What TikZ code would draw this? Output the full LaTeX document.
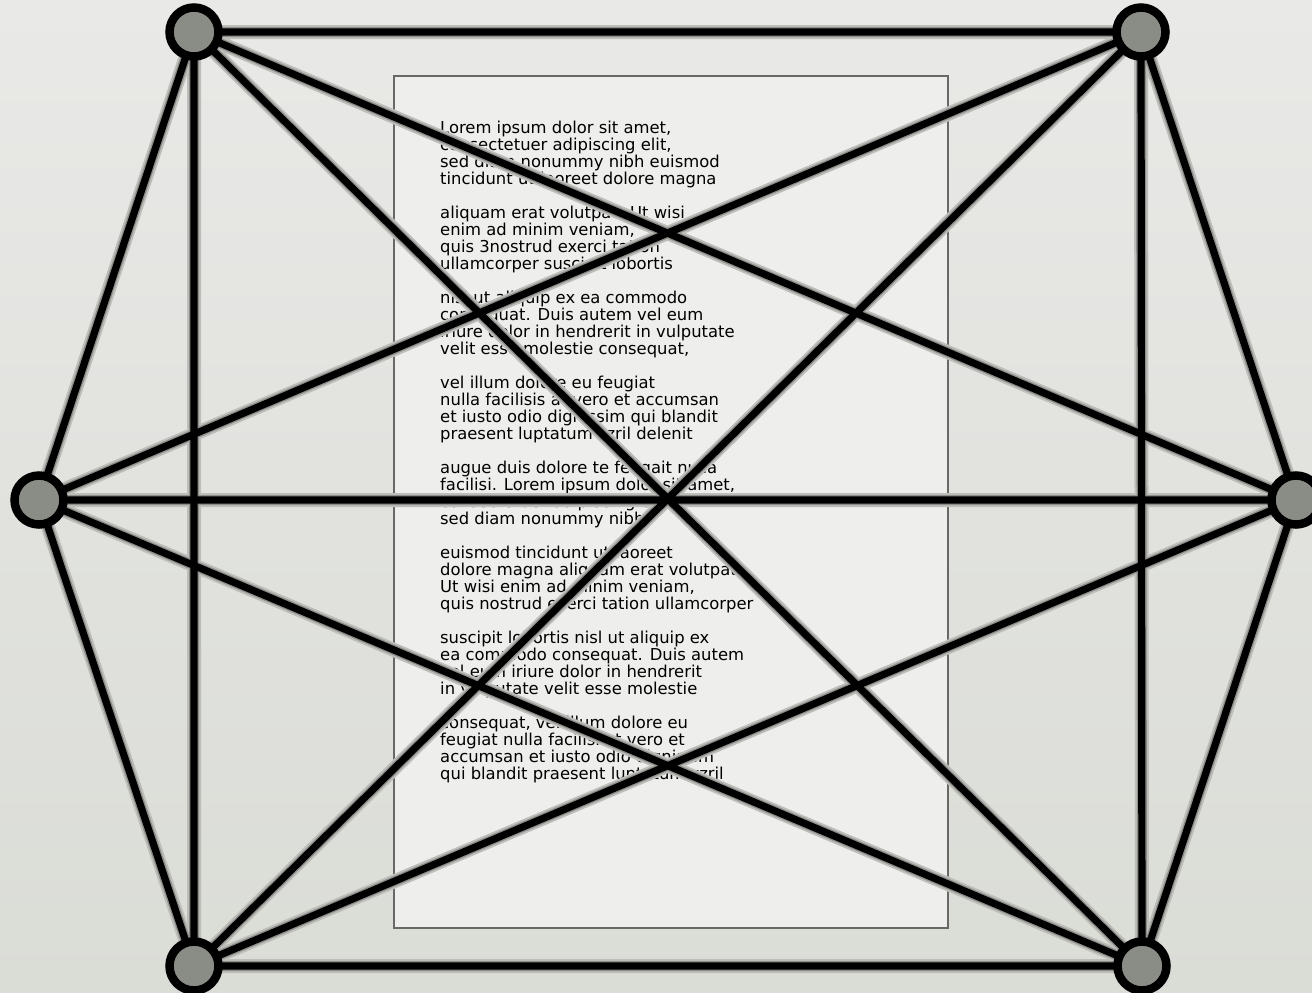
\documentclass[tikz,border=0pt]{standalone}
\usepackage{fontspec}
\setmainfont{DejaVu Sans}
\usepackage{tikz}
\definecolor{bgtop}{HTML}{E9E9E7}
\definecolor{bgbot}{HTML}{DADCD6}
\definecolor{sheet}{HTML}{EEEEEC}
\definecolor{sheetline}{HTML}{686966}
\definecolor{knob}{HTML}{8A8C86}
\definecolor{haze}{HTML}{BDBEBA}
\definecolor{shade}{HTML}{8E8F8B}
\tikzset{
  vtx/.style={circle,draw=black,fill=knob,line width=8.5pt,minimum size=49pt,inner sep=0pt},
  halo/.style={draw=haze,line width=14pt,postaction={draw=shade,line width=10pt}},
  edg/.style={draw=black,line width=7.2pt},
}

\begin{document}
\begin{tikzpicture}[x=1pt,y=-1pt]
\tikzset{
  page/.style={fill=sheet,draw=sheetline,line width=2pt},
  lorem/.style={anchor=north west,inner sep=0pt,align=left,font=\fontsize{16.4}{17}\selectfont},
}
\shade[top color=bgtop,bottom color=bgbot] (0,0) rectangle (1312,993);
\useasboundingbox (0,0) rectangle (1312,993);
\node[page,minimum width=554pt,minimum height=852pt,anchor=north west,inner sep=0pt] (sheet) at (393,75) {};
\node[lorem] (txt) at (440,120.4)
  {Lorem ipsum dolor sit amet,\\consectetuer adipiscing elit,\\sed diam nonummy nibh euismod\\tincidunt ut laoreet dolore magna\\[17pt]
   aliquam erat volutpat. Ut wisi\\enim ad minim veniam,\\quis 3nostrud exerci tation\\ullamcorper suscipit lobortis\\[17pt]
   nisl ut aliquip ex ea commodo\\consequat. Duis autem vel eum\\iriure dolor in hendrerit in vulputate\\velit esse molestie consequat,\\[17pt]
   vel illum dolore eu feugiat\\nulla facilisis at vero et accumsan\\et iusto odio dignissim qui blandit\\praesent luptatum zzril delenit\\[17pt]
   augue duis dolore te feugait nulla\\facilisi. Lorem ipsum dolor sit amet,\\consectetuer adipiscing elit,\\sed diam nonummy nibh\\[17pt]
   euismod tincidunt ut laoreet\\dolore magna aliquam erat volutpat.\\Ut wisi enim ad minim veniam,\\quis nostrud exerci tation ullamcorper\\[17pt]
   suscipit lobortis nisl ut aliquip ex\\ea commodo consequat. Duis autem\\vel eum iriure dolor in hendrerit\\in vulputate velit esse molestie\\[17pt]
   consequat, vel illum dolore eu\\feugiat nulla facilisi at vero et\\accumsan et iusto odio dignissim\\qui blandit praesent luptatum zzril};
\coordinate (tl) at (194,32);
\coordinate (tr) at (1141,32);
\coordinate (lf) at (39,500);
\coordinate (rt) at (1296,500);
\coordinate (bl) at (194,966);
\coordinate (br) at (1142,966);
\path[halo] (tl) -- (tr) (tl) -- (lf) (tl) -- (rt) (tl) -- (bl) (tl) -- (br)
  (tr) -- (lf) (tr) -- (rt) (tr) -- (bl) (tr) -- (br)
  (lf) -- (rt) (lf) -- (bl) (lf) -- (br)
  (rt) -- (bl) (rt) -- (br) (bl) -- (br);
\draw[edg] (tl) -- (tr) (tl) -- (lf) (tl) -- (rt) (tl) -- (bl) (tl) -- (br)
  (tr) -- (lf) (tr) -- (rt) (tr) -- (bl) (tr) -- (br)
  (lf) -- (rt) (lf) -- (bl) (lf) -- (br)
  (rt) -- (bl) (rt) -- (br) (bl) -- (br);
\node[vtx] (ntl) at (tl) {};
\node[vtx] (ntr) at (tr) {};
\node[vtx] (nlf) at (lf) {};
\node[vtx] (nrt) at (rt) {};
\node[vtx] (nbl) at (bl) {};
\node[vtx] (nbr) at (br) {};
\end{tikzpicture}
\end{document}
